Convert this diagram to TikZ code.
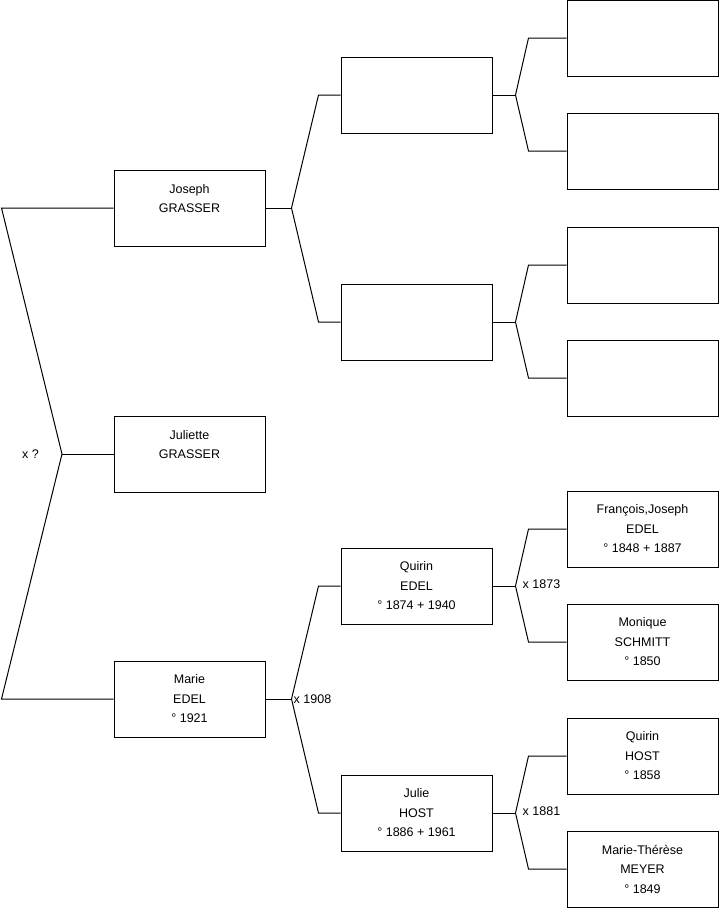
\documentclass[tikz,border=0pt]{standalone}
\usepackage{fontspec}
\setmainfont{Liberation Sans}
\usetikzlibrary{positioning, calc}

\begin{document}
\begin{tikzpicture}[x=1pt, y=-1pt,
  person/.style={draw, line width=1pt, minimum width=151pt, minimum height=76pt,
    align=center, inner sep=0pt, font=\fontsize{12.5}{19.5}\selectfont},
  link/.style={line width=1pt},
  wed/.style={font=\fontsize{12.5}{15}\selectfont, inner sep=1pt}]
  \useasboundingbox (0,0) rectangle (719,908);

  % generation 1
  \node[person] (joseph)   at (189.5,208) {Joseph\\GRASSER\\~};
  \node[person] (juliette) at (189.5,454) {Juliette\\GRASSER\\~};
  \node[person] (marie)    at (189.5,699) {Marie\\EDEL\\° 1921};

  % generation 2
  \node[person] (grasserfa) at (416.5,95)  {};
  \node[person] (grassermo) at (416.5,322) {};
  \node[person] (quirin)    at (416.5,586) {Quirin\\EDEL\\° 1874 + 1940};
  \node[person] (julie)     at (416.5,813) {Julie\\HOST\\° 1886 + 1961};

  % generation 3
  \node[person] (emptya)   at (642.5,38)  {};
  \node[person] (emptyb)   at (642.5,151) {};
  \node[person] (emptyc)   at (642.5,265) {};
  \node[person] (emptyd)   at (642.5,378) {};
  \node[person] (francois) at (642.5,529) {François,Joseph\\EDEL\\° 1848 + 1887};
  \node[person] (monique)  at (642.5,642) {Monique\\SCHMITT\\° 1850};
  \node[person] (quirinh)  at (642.5,756) {Quirin\\HOST\\° 1858};
  \node[person] (marieth)  at (642.5,869) {Marie-Thérèse\\MEYER\\° 1849};

  % parents of Juliette
  \coordinate (rootknot) at (62,454);
  \draw[link] (juliette.west) -- (rootknot);
  \draw[link] (joseph.west) -- ++(-112,0) -- (rootknot)
    -- ($(marie.west)+(-112,0)$) -- (marie.west);
  \node[wed, left=22pt of rootknot] (rootwed) {x ?};

  % the other forks
  \foreach \kid/\dad/\mum/\gap/\knee in {joseph/grasserfa/grassermo/26/22,
      marie/quirin/julie/26/22, grasserfa/emptya/emptyb/23/38,
      grassermo/emptyc/emptyd/23/38, quirin/francois/monique/23/38,
      julie/quirinh/marieth/23/38}{
    \draw[link] (\kid.east) -- ++(\gap,0) coordinate (\kid knot);
    \draw[link] (\dad.west) -- ++(-\knee,0) -- (\kid knot)
      -- ($(\mum.west)+(-\knee,0)$) -- (\mum.west);
  }

  \node[wed, anchor=west] (mariewed)  at ($(marieknot)+(1,0)$) {x 1908};
  \node[wed, anchor=west] (quirinwed) at ($(quirinknot)+(6,-2)$) {x 1873};
  \node[wed, anchor=west] (juliewed)  at ($(julieknot)+(6,-2)$) {x 1881};
\end{tikzpicture}
\end{document}
